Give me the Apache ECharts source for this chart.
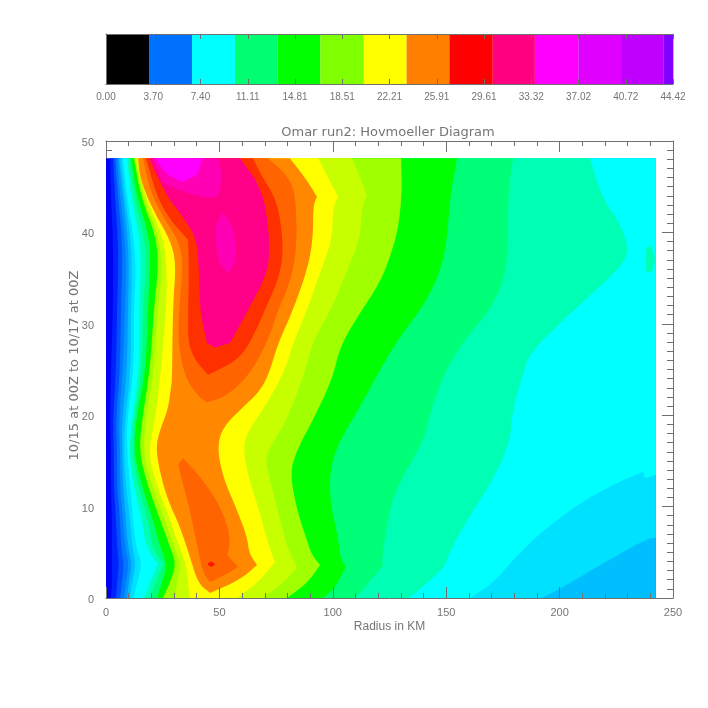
<!DOCTYPE html>
<html>
<head>
<meta charset="utf-8">
<style>html,body{margin:0;padding:0;background:#fff}#c{width:708px;height:708px}</style>
<script src="https://cdn.jsdelivr.net/npm/echarts@6/dist/echarts.min.js"></script>
</head>
<body>
<div id="c"></div>
<script>
// Colour bar
const barTickLabels = ['0.00','3.70','7.40','11.11','14.81','18.51','22.21','25.91','29.61','33.32','37.02','40.72','44.42'];
const barEdges = [0,3.37,6.74,10.1,13.45,16.8,20.2,23.55,26.9,30.3,33.6,37,40.35,43.7,44.42];
const barColors = ['#000000','#0070ff','#00ffff','#00ff70','#00ff00','#80ff00','#ffff00','#ff8000','#ff0000','#ff0080','#ff00ff','#e000ff','#c000ff','#8000ff'];

// Limits of the filled field
const rMax = 242.4, tMax = 48.1;

// Hours (axis units) at which the inner edge of each contour was read
const innerTimes = [48.1,43.9,39.2,35.6,31.9,25,19.5,15.9,12.2,8.6,5.6,3.7,1.7,0];
// Radius of each contour's inner edge at those times
const innerB1 = [1.8,2.2,3.1,3.1,3.1,2.2,1.8,2.2,2.2,2.6,2.6,2.6,2.6,2.2];
const innerB2 = [3.1,4,5.3,5.3,4.9,4.4,3.1,3.5,3.5,4.4,4.9,5.7,4.9,4.4];
const innerB3 = [4,5.3,7.1,7.1,6.6,6.2,4.4,4.9,4.9,6.2,6.6,7.9,7.1,6.2];
const innerB4 = [4.9,6.2,8.4,8.8,8.4,7.5,5.7,6.2,6.2,7.5,8.4,10.1,8.8,7.9];
const innerB5 = [5.7,7.5,9.7,10.1,9.7,9.3,7.1,7.1,7.5,8.8,9.7,11.5,10.1,9.3];
const innerB6 = [6.6,8.4,11,11.5,11,11,8.4,7.9,8.8,10.6,11.5,13.2,11.5,10.6];
const innerB7 = [7.5,9.3,12.3,13.2,12.3,12.3,9.3,9.3,10.6,11.9,13.2,15.9,13.7,12.3];
const innerC = [9.3,11,15,15.4,14.6,14.6,11.5,10.1,12.3,15.9,17.6,22.9,19.4,16.8];
const innerD = [10.1,12.3,17.2,17.6,16.3,15.9,12.3,11.5,14.1,18.5,20.3,25.1,22,19.4];
const innerE = [11,13.7,19.4,19.4,18.5,17.6,13.2,12.3,15.9,20.7,23.8,26.9,24.7,22.5];
const innerF = [12.3,15.4,22.5,22.9,21.2,19.4,15.9,14.6,18.5,23.8,28.2,30.9,28.2,25.1];
const innerG = [12.8,16.3,23.8,24.7,22.9,21.2,17.6,16.3,20.3,26,30,33.1,31.3,30.4];
const innerH = [13.7,17.2,25.6,26.9,26.5,24.3,21.6,18.5,22.5,28.2,32.2,35.3,36.2,37];

// Outer edge of each contour, [radius, time], from t=0 upward
const outerB6 = [[192.2,0],[201.5,1.2],[216.5,3.4],[237.7,6.4],[242.4,6.6]];
const outerB7 = [[160.5,0],[170.6,1.6],[179.5,4.2],[191.4,7.1],[207.7,10.2],[223.5,12.4],[236.8,13.8],[237.7,13.1],[242.4,13.5]];
const outerC = [[133.2,0],[137.1,0.66],[149.5,3.4],[150.4,4.4],[157.4,7.8],[170.6,12.9],[178.1,17],[179,20.2],[183.4,24.2],[186.9,26.8],[200.2,30.1],[214.7,33.4],[228.8,36.7],[230.2,38.4],[226.6,41],[218.7,43.8],[213.4,48.1]];
const outerD = [[109.8,0],[113.3,0.9],[122.1,3.6],[121.7,4.2],[123,6.7],[126.6,11.5],[139.8,17],[142.9,20.2],[149.5,24.9],[159.2,28.6],[169.3,31.5],[176,35.1],[177.3,39.2],[177.3,44.3],[179.5,48.1]];
const outerE = [[95.7,0],[98.8,0.66],[101,1.2],[105.8,3.4],[103.2,4.5],[102.3,6.7],[98.8,10.4],[98.8,14.3],[103.2,17.3],[112,20.9],[120.8,25],[129.6,28.6],[139.8,31.9],[147.3,35.6],[150.4,39.2],[151.7,43.9],[154.8,48.1]];
const outerF = [[79.8,0],[88.6,1.6],[94.4,3.6],[90.8,4.7],[88.6,6.3],[84.2,9.6],[81.1,13.7],[84.2,16.2],[91.3,19.5],[99.7,23.9],[103.2,27.5],[110.7,30.7],[120.8,34.5],[125.2,37.3],[128.8,40.3],[130.5,44.3],[130.1,48.1]];
const outerG = [[69.2,0],[78.1,1.6],[84.2,3.4],[79.8,5.6],[77.6,7.8],[73.6,11.5],[70.1,15.1],[72.3,16.5],[79.8,19.5],[86.9,24.1],[91.3,28.2],[99.7,31.8],[106.3,35.9],[112,39.2],[112.9,42.8],[115.1,44.1],[108.5,48.1]];
const outerH = [[57.8,0],[66.6,1.6],[74.5,3.9],[71,6.3],[67.9,9.3],[63.5,12.6],[60.4,16.2],[62.2,18.1],[71,21.3],[78.9,24.9],[82.5,27.9],[88.6,31.5],[94.4,35.6],[99.7,39.2],[100.1,42.7],[102.3,43.9],[93.5,48.1]];

// Closed contours, [radius, time]
const islandC = [[238.1,35.7],[238.1,38.3],[239.9,38.6],[242.4,37.2],[240.7,35.7]];
const loopOrange = [[14.1,48.1],[15,46.1],[18.1,43.9],[21.6,42.1],[28.2,39.2],[30.9,36.7],[29.5,31.9],[29.1,23.9],[28.7,23.1],[27.3,20.6],[23.8,18.4],[22,16.5],[23.8,13.7],[27.3,10.7],[32.6,7.8],[37,4.5],[40.6,1.6],[45.9,0.55],[59.1,2],[66.6,3.6],[63.1,4.9],[62.2,6.7],[57.8,9.6],[51.6,13.2],[49,16.5],[51.6,18.7],[60.4,20.9],[67,22.4],[71.4,24.2],[75.9,27.9],[82.5,31.5],[89.1,36.2],[91.3,39.5],[91.3,42.8],[93,43.9],[88.6,45.7],[81.1,48.1]];
const loopDeepOrangeUpper = [[16.3,48.1],[19.4,44.6],[25.1,41.7],[31.8,39.2],[34,36.7],[32.2,31.5],[31.8,27.9],[34.8,24.2],[40.1,22.2],[44.5,21.4],[52.5,22],[62.6,24.2],[71,27.9],[75.9,31.5],[79.8,33.7],[83.3,36.7],[84.2,40.3],[83.3,44.6],[78.9,46.5],[71.4,48.1]];
const loopDeepOrangeLower = [[34,15.3],[40.1,13.7],[49,10.7],[53.8,7.8],[54.7,6],[53.4,4.7],[58.2,3.4],[53.8,2.7],[45.9,1.75],[42.8,2.7],[40.6,5.25],[37,9.6],[33.5,12.9],[31.8,14.6]];
const loopRedOrange = [[17.6,48.1],[22.5,43.9],[28.2,41.4],[36.2,39.2],[36.6,35.6],[36.2,31.5],[36.2,27.9],[39.3,26],[45,24.4],[57.8,26],[63.5,27.9],[70.1,31.5],[77.2,35.6],[78.1,39.2],[75.4,43.5],[67.9,46.5],[64.8,48.1]];
const loopRedSpot = [[45,3.8],[46.5,4],[48.1,3.7],[46.5,3.4],[45,3.6]];
const loopRose = [[19,48.1],[26.9,43.9],[34,41.7],[40.1,39.2],[41,35.6],[41.5,31.5],[43,29.6],[44.5,27.9],[48.1,27.4],[54.7,27.9],[62.6,31.5],[71.4,35.6],[72.3,39.2],[69.2,44.6],[59.1,48.1]];
const loopPinkCore = [[51.6,42.2],[55.6,40.8],[57.3,38.6],[57.3,36.8],[53.8,35.6],[50.3,36.4],[48.5,38.6],[48.1,40.8]];
const loopPinkTop = [[20.3,48.1],[25.1,45.4],[34.8,44.4],[43.7,43.8],[49.4,43.9],[51.2,46],[49.4,48.1]];
const loopMagentaTop = [[21.6,48.1],[26.9,46.3],[33.5,45.5],[40.1,46.3],[42.8,48.1]];

const innerEdge = inner => inner.map((r, i) => [r, innerTimes[i]]);
const openToRight = inner => [innerEdge(inner), [[rMax, 0]], [[rMax, tMax]]];

// Each band: the curves that bound it, its colour, and whether it is one ring
const fieldBands = [
  {curves: [[[0,0]],[[rMax,0]],[[rMax,tMax]],[[0,tMax]]], color: '#0000f0'},
  {curves: openToRight(innerB1), color: '#0020ff'},
  {curves: openToRight(innerB2), color: '#0050ff'},
  {curves: openToRight(innerB3), color: '#0078ff'},
  {curves: openToRight(innerB4), color: '#0098ff'},
  {curves: openToRight(innerB5), color: '#00bfff'},
  {curves: [innerEdge(innerB6), outerB6, [[rMax, tMax]]], color: '#00e0ff'},
  {curves: [innerEdge(innerB7), outerB7, [[rMax, tMax]]], color: '#00ffff'},
  {curves: [innerEdge(innerC), outerC], color: '#00ffb4'},
  {curves: [islandC], color: '#00ffb4'},
  {curves: [innerEdge(innerD), outerD], color: '#00ff78'},
  {curves: [innerEdge(innerE), outerE], color: '#00ff00'},
  {curves: [innerEdge(innerF), outerF], color: '#a0ff00'},
  {curves: [innerEdge(innerG), outerG], color: '#c8ff00'},
  {curves: [innerEdge(innerH), outerH], color: '#ffff00'},
  {curves: [loopOrange], color: '#ff8800'},
  {curves: [loopDeepOrangeUpper], color: '#ff6400'},
  {curves: [loopDeepOrangeLower], color: '#ff6400', ring: true},
  {curves: [loopRedOrange], color: '#ff3000'},
  {curves: [loopRedSpot], color: '#ff1000', ring: true},
  {curves: [loopRose], color: '#ff0088'},
  {curves: [loopPinkCore], color: '#ff00b4', ring: true},
  {curves: [loopPinkTop], color: '#ff00b4'},
  {curves: [loopMagentaTop], color: '#ff00ff'}
];

// Rounds the drawn outline between the read points, keeps sharp kinks as they are
function isSharp(a, b, c) {
  const u = [b[0] - a[0], b[1] - a[1]], v = [c[0] - b[0], c[1] - b[1]];
  const cos = (u[0] * v[0] + u[1] * v[1]) / (Math.hypot(u[0], u[1]) * Math.hypot(v[0], v[1]) || 1);
  return cos < Math.cos(40 * Math.PI / 180);
}
function rounded(points, ring, passes) {
  let pts = points;
  for (let n = 0; n < passes; n++) {
    if (pts.length < 3) return pts;
    const out = [];
    const len = pts.length;
    const lastSeg = ring ? len : len - 1;
    if (!ring) out.push(pts[0]);
    for (let i = 0; i < lastSeg; i++) {
      const a = pts[i], b = pts[(i + 1) % len];
      const aPrev = pts[(i - 1 + len) % len];
      if (i > 0 || ring) {
        if (isSharp(aPrev, a, b)) out.push(a);
      }
      out.push([a[0] * 0.75 + b[0] * 0.25, a[1] * 0.75 + b[1] * 0.25]);
      out.push([a[0] * 0.25 + b[0] * 0.75, a[1] * 0.25 + b[1] * 0.75]);
    }
    if (!ring) out.push(pts[len - 1]);
    pts = out;
  }
  return pts;
}

const grey = '#707070';
const textGrey = '#757575';
const font = 'Liberation Sans';

const mainAxisBase = {
  z: 5,
  axisLine: {show: true, onZero: false, lineStyle: {color: grey, width: 1}},
  splitLine: {show: false},
  minorSplitLine: {show: false},
  axisTick: {show: true, inside: true, length: 11, lineStyle: {color: grey, width: 1}},
  minorTick: {show: true, length: 6, lineStyle: {color: grey, width: 1}}
};
const labelStyle = {color: textGrey, fontFamily: font, fontSize: 11};

const chart = echarts.init(document.getElementById('c'), null, {renderer: 'canvas'});
chart.setOption({
  animation: false,
  backgroundColor: '#fff',
  title: {
    text: 'Omar run2: Hovmoeller Diagram',
    left: 383, top: 121, textAlign: 'center',
    textStyle: {color: textGrey, fontFamily: 'DejaVu Sans', fontWeight: 'normal', fontSize: 13}
  },
  grid: [
    {left: 106, right: 35, top: 141, bottom: 110},
    {left: 106, right: 35, top: 34, bottom: 624}
  ],
  xAxis: [
    Object.assign({}, mainAxisBase, {
      type: 'value', gridIndex: 0, position: 'bottom', min: 0, max: 250, interval: 50,
      minorTick: {show: true, splitNumber: 5, length: 5, lineStyle: {color: grey, width: 1}},
      axisLabel: Object.assign({margin: 9, show: true}, labelStyle),
      name: 'Radius in KM', nameLocation: 'middle', nameGap: 23, nameMoveOverlap: false,
      nameTextStyle: {color: textGrey, fontFamily: font, fontSize: 12}
    }),
    Object.assign({}, mainAxisBase, {
      type: 'value', gridIndex: 0, position: 'top', min: 0, max: 250, interval: 50,
      minorTick: {show: true, splitNumber: 5, length: 5, lineStyle: {color: grey, width: 1}},
      axisLabel: {show: false}
    }),
    {
      type: 'value', gridIndex: 1, position: 'bottom', min: 0, max: 44.42, interval: 44.42 / 12, z: 5,
      axisLine: {show: true, onZero: false, lineStyle: {color: grey}},
      axisTick: {show: true, inside: true, length: 5, lineStyle: {color: grey}},
      splitLine: {show: false},
      axisLabel: Object.assign({margin: 8, show: true, hideOverlap: false, showMinLabel: true, showMaxLabel: true,
        formatter: (v, i) => barTickLabels[i]}, labelStyle, {fontSize: 10})
    },
    {
      type: 'value', gridIndex: 1, position: 'top', min: 0, max: 44.42, interval: 44.42 / 12, z: 5,
      axisLine: {show: true, onZero: false, lineStyle: {color: grey}},
      axisTick: {show: true, inside: true, length: 5, lineStyle: {color: grey}},
      splitLine: {show: false},
      axisLabel: {show: false}
    }
  ],
  yAxis: [
    Object.assign({}, mainAxisBase, {
      z: 1,
      type: 'value', gridIndex: 0, position: 'left', min: 0, max: 50, interval: 10,
      minorTick: {show: true, splitNumber: 10, length: 6, lineStyle: {color: grey, width: 1}},
      axisLabel: Object.assign({margin: 12, show: true, verticalAlign: 'top', lineHeight: 4}, labelStyle),
      name: '10/15 at 00Z to 10/17 at 00Z', nameLocation: 'middle', nameGap: 25, nameRotate: 90, nameMoveOverlap: false,
      nameTextStyle: {color: textGrey, fontFamily: 'DejaVu Sans', fontSize: 13, padding: [0, 0, 0, 8]}
    }),
    Object.assign({}, mainAxisBase, {
      type: 'value', gridIndex: 0, position: 'right', min: 0, max: 50, interval: 10,
      minorTick: {show: true, splitNumber: 10, length: 6, lineStyle: {color: grey, width: 1}},
      axisLabel: {show: false}
    }),
    {type: 'value', gridIndex: 1, min: 0, max: 1, interval: 1, position: 'left', z: 5,
      axisLine: {show: true, onZero: false, lineStyle: {color: grey}}, axisTick: {show: false}, axisLabel: {show: false}, splitLine: {show: false}},
    {type: 'value', gridIndex: 1, min: 0, max: 1, interval: 1, position: 'right', z: 5,
      axisLine: {show: true, onZero: false, lineStyle: {color: '#bbbbbb'}}, axisTick: {show: false}, axisLabel: {show: false}, splitLine: {show: false}}
  ],
  series: [
    {
      type: 'custom',
      coordinateSystem: 'cartesian2d',
      xAxisIndex: 0, yAxisIndex: 0,
      clip: true, silent: true,
      data: fieldBands.map((b, i) => [b.curves[0][0][0], b.curves[0][0][1], i]),
      encode: {x: 0, y: 1},
      renderItem: (params, api) => {
        const b = fieldBands[params.dataIndex];
        const points = [];
        b.curves.forEach(curve => {
          rounded(curve.map(p => api.coord(p)), !!b.ring, 2).forEach(p => points.push(p));
        });
        return {
          type: 'polygon',
          shape: {points: points},
          style: {fill: b.color, stroke: null}
        };
      }
    },
    {
      type: 'custom',
      coordinateSystem: 'cartesian2d',
      xAxisIndex: 2, yAxisIndex: 2,
      clip: true, silent: true,
      data: barColors.map((c, i) => [barEdges[i], barEdges[i + 1]]),
      encode: {x: [0, 1]},
      renderItem: (params, api) => {
        const i = params.dataIndex;
        const a = api.coord([barEdges[i], 0]);
        const b = api.coord([barEdges[i + 1], 1]);
        return {
          type: 'rect',
          shape: {x: a[0], y: b[1], width: b[0] - a[0], height: a[1] - b[1]},
          style: {fill: barColors[i]}
        };
      }
    }
  ]
});
</script>
</body>
</html>
